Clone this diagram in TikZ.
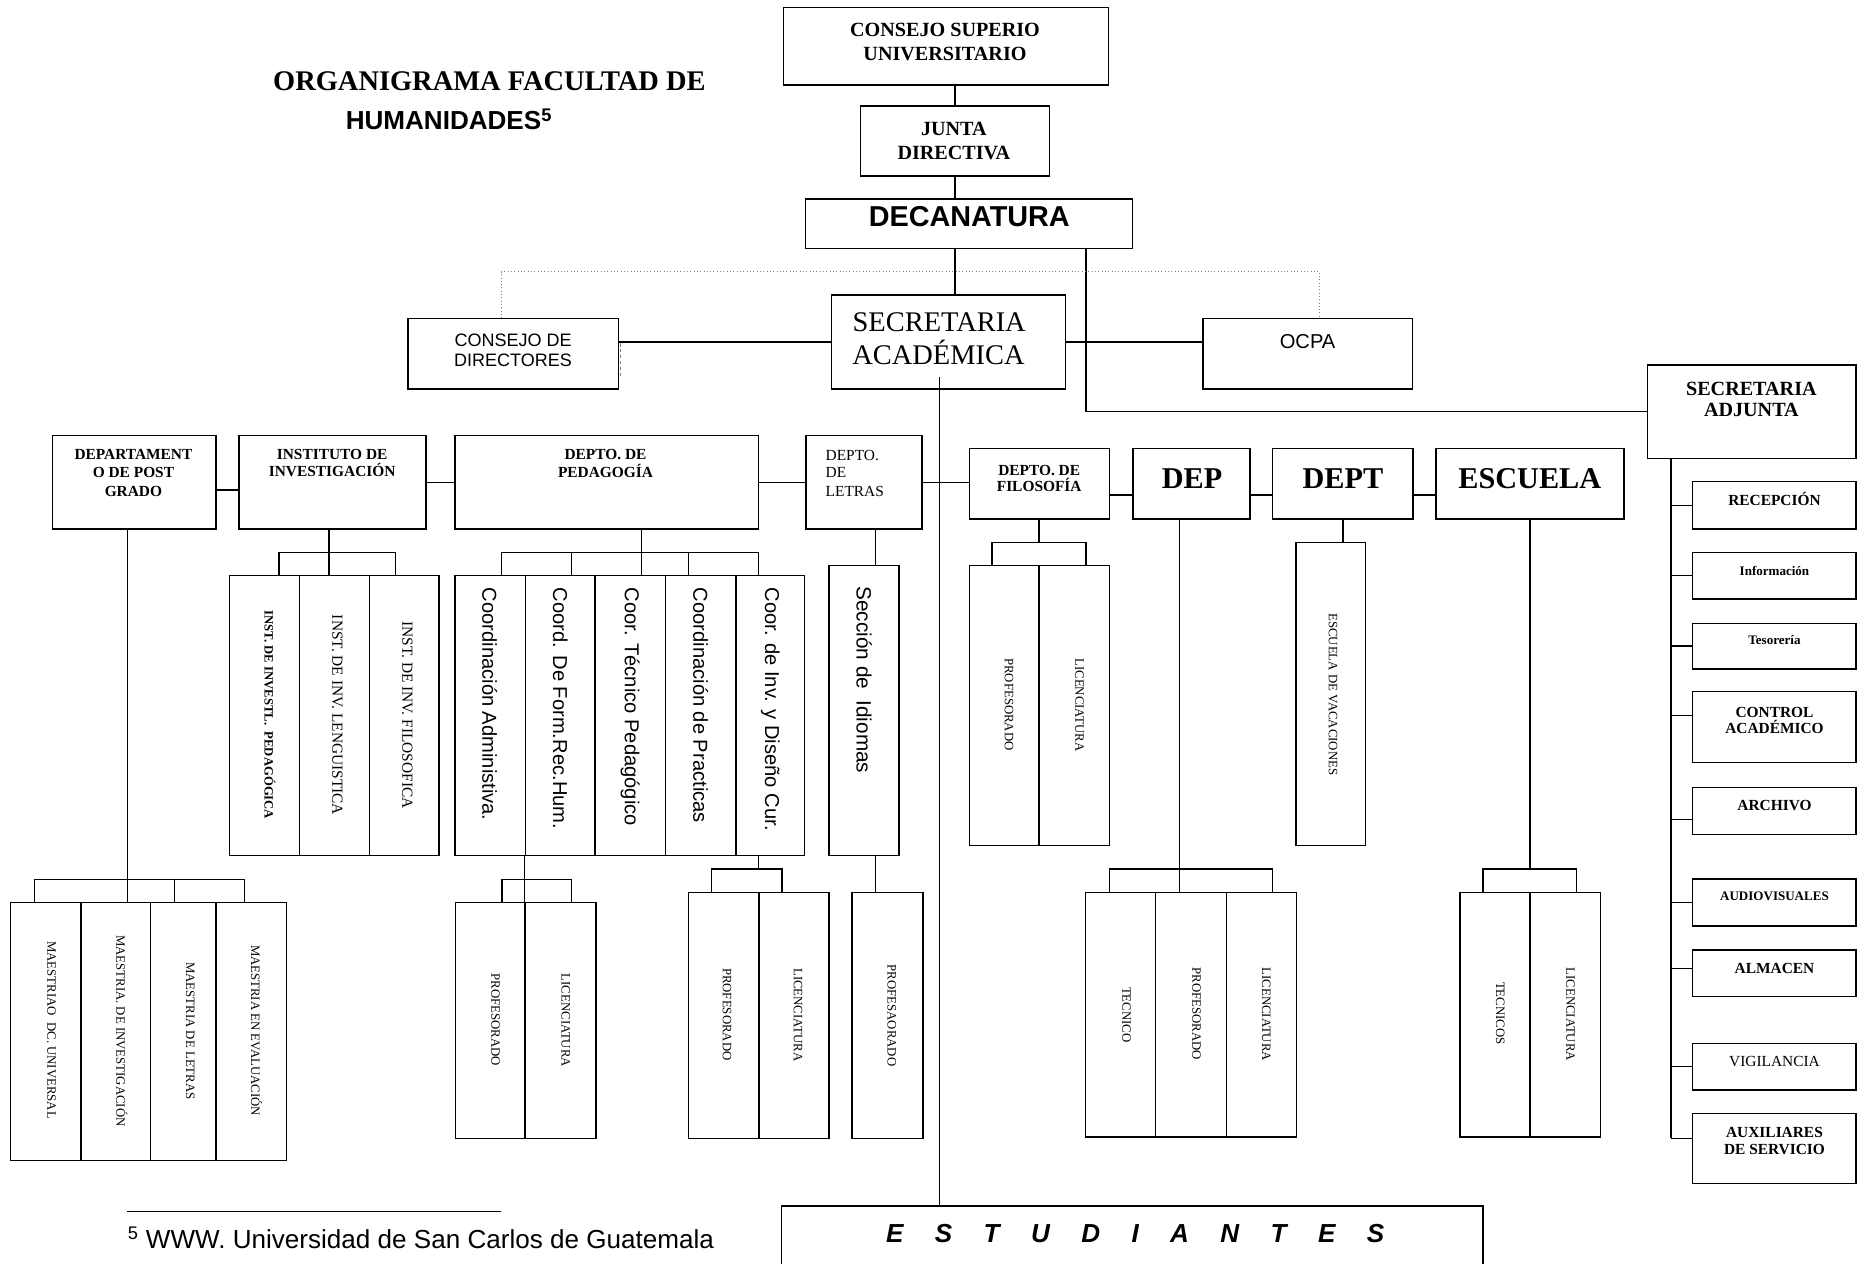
\documentclass[tikz,border=0pt]{standalone}
\usepackage{fontspec}
\setmainfont{Liberation Serif}
\newfontfamily\sans{Liberation Sans}
\newcommand\fs[2]{\fontsize{#1}{#2}\selectfont}
\newcommand\gp{\ \hspace{20.4pt}}
\tikzset{
  box/.style={draw, rectangle, line width=1.3pt, inner sep=0pt, outer sep=0pt},
  conn/.style={line width=1.2pt},
  txt/.style={inner sep=0pt, outer sep=0pt},
  rot/.style={txt, rotate=-90},
  dotline/.style={gray, dotted, line width=0.8pt},
  lsb/.style={txt, anchor=base, font=\bfseries\fs{13}{15}},
  lsr/.style={txt, anchor=base, font=\fs{13}{15}},
  vsmall/.style={rot, font=\fs{10.8}{12}},
  vsans/.style={rot, anchor=west, font=\sans\fs{17}{20}},
}
\newcommand\bx[5]{\node[box, minimum width=#4pt-#2pt, minimum height=#5pt-#3pt] (#1) at ({(#2+#4)/2},{(#3+#5)/2}) {};}
\begin{document}
\begin{tikzpicture}[x=1pt,y=-1pt]
\useasboundingbox (0,0) rectangle (1568,1066);
\clip (0,0) rectangle (1568,1066);
\fill[white] (0,0) rectangle (1568,1066);

% ---- title
\node[txt, anchor=base, font=\bfseries\fs{24}{28}] (title1) at (413,76) {ORGANIGRAMA FACULTAD DE};
\node[txt, anchor=base west, font=\sans\bfseries\fs{22}{26}] (title2) at (291.8,109.7) {HUMANIDADES\textsuperscript{5}};

% ---- top chain
\bx{cs}{661.1}{6.2}{935.6}{71.7}
\node[txt, anchor=base, font=\bfseries\fs{17}{20}] (cs1) at (797.5,31) {CONSEJO SUPERIO};
\node[txt, anchor=base, font=\bfseries\fs{17}{20}] (cs2) at (797.5,51.2) {UNIVERSITARIO};
\bx{jd}{726.1}{89.5}{885.7}{148.3}
\node[txt, anchor=base, font=\bfseries\fs{17}{20}] (jd1) at (805,114) {JUNTA};
\node[txt, anchor=base, font=\bfseries\fs{17}{20}] (jd2) at (805,135) {DIRECTIVA};
\bx{dec}{679.7}{167.9}{955.9}{209.6}
\node[txt, anchor=base, font=\sans\bfseries\fs{24.3}{28}] (dec1) at (818,191.3) {DECANATURA};
\bx{sec}{701.8}{249}{899}{328.3}
\node[txt, anchor=base, font=\fs{24}{28}] (sec1) at (792.6,280) {SECRETARIA};
\node[txt, anchor=base, font=\fs{24}{28}] (sec2) at (792,307.2) {ACADÉMICA};
\bx{cd}{344.3}{268.6}{522}{328.3}
\node[txt, anchor=base, font=\sans\fs{15.2}{18}] (cd1) at (433,292.2) {CONSEJO DE};
\node[txt, anchor=base, font=\sans\fs{15.2}{18}] (cd2) at (433,309.1) {DIRECTORES};
\bx{ocpa}{1015}{268.6}{1192}{328.3}
\node[txt, anchor=base, font=\sans\fs{17}{20}] (ocpa1) at (1103.5,294) {OCPA};
\bx{sadj}{1390.5}{308}{1566.4}{386.8}
\node[txt, anchor=base, font=\bfseries\fs{17}{20}] (sadj1) at (1478,333.4) {SECRETARIA};
\node[txt, anchor=base, font=\bfseries\fs{17}{20}] (sadj2) at (1478,351.8) {ADJUNTA};

% ---- second row
\bx{pg}{44.4}{367.7}{182.2}{446.4}
\node[lsb] (pg1) at (112.6,387.7) {DEPARTAMENT};
\node[lsb] (pg2) at (112.6,403.2) {O DE POST};
\node[lsb] (pg3) at (112.6,418.7) {GRADO};
\bx{inst}{201.9}{367.7}{359.7}{446.4}
\node[lsb] (inst1) at (280.3,387.7) {INSTITUTO DE};
\node[lsb] (inst2) at (280.3,402.3) {INVESTIGACIÓN};
\bx{ped}{384}{367.7}{640}{446.4}
\node[lsb] (ped1) at (511,387.7) {DEPTO. DE};
\node[lsb] (ped2) at (511,402.9) {PEDAGOGÍA};
\bx{let}{680}{367.7}{778}{446.4}
\node[lsr, anchor=base west] (let1) at (696.8,388.3) {DEPTO.};
\node[lsr, anchor=base west] (let2) at (696.8,402.9) {DE};
\node[lsr, anchor=base west] (let3) at (696.8,418.7) {LETRAS};
\bx{filo}{818}{378.4}{936.4}{438}
\node[lsb] (filo1) at (877,400.9) {DEPTO. DE};
\node[lsb] (filo2) at (877,415) {FILOSOFÍA};
\bx{dep}{956}{378.4}{1055}{438}
\node[txt, anchor=base, font=\bfseries\fs{25.5}{30}] (dep1) at (1006,412) {DEP};
\bx{dept}{1074}{378.4}{1192.6}{438}
\node[txt, anchor=base, font=\bfseries\fs{25.5}{30}] (dept1) at (1133.3,412) {DEPT};
\bx{esc}{1212}{378.4}{1370.5}{438}
\node[txt, anchor=base, font=\bfseries\fs{25.5}{30}] (esc1) at (1291,412) {ESCUELA};

% ---- instituto children
\bx{iA}{193.5}{485.8}{252.6}{722.1}
\bx{iB}{252.6}{485.8}{312}{722.1}
\bx{iC}{312}{485.8}{370.4}{722.1}
\node[vsmall, font=\bfseries\fs{10.7}{12}] (tiA) at (227.9,603.4) {INST. DE INVESTL.~ PEDAGÓGICA};
\node[vsmall, font=\fs{13}{15}] (tiB) at (284.6,603.4) {INST. DE INV. LENGUISTICA};
\node[vsmall, font=\fs{13}{15}] (tiC) at (343.7,603.4) {INST. DE INV. FILOSOFICA};

% ---- pedagogia children
\bx{pA}{384}{485.8}{443.6}{722.1}
\bx{pB}{443.6}{485.8}{502}{722.1}
\bx{pC}{502}{485.8}{561.8}{722.1}
\bx{pD}{561.8}{485.8}{620.9}{722.1}
\bx{pE}{620.9}{485.8}{679}{722.1}
\node[vsans] (tpA) at (413.3,496) {Coordinación Administiva.};
\node[vsans] (tpB) at (472.8,496) {Coord. De Form.Rec.Hum.};
\node[vsans] (tpC) at (531.9,496) {Coor. Técnico Pedagógico};
\node[vsans] (tpD) at (591.3,496) {Coordinación de Practicas};
\node[vsans] (tpE) at (650,496) {Coor. de Inv. y Diseño Cur.};

% ---- letras child
\bx{lA}{699.6}{477.4}{758.7}{722.1}
\node[vsans, font=\sans\fs{17.5}{20}] (tlA) at (729.2,495) {Sección de~ Idiomas};

% ---- filosofia children
\bx{fA}{818}{477.4}{877}{713.7}
\bx{fB}{877}{477.4}{936.4}{713.7}
\node[vsmall] (tfA) at (851.6,594.5) {PROFESORADO};
\node[vsmall] (tfB) at (911,595) {LICENCIATURA};

% ---- dept child
\bx{vA}{1093.7}{457.7}{1152.3}{713.7}
\node[vsmall] (tvA) at (1124.9,586) {ESCUELA DE VACACIONES};

% ---- dep children
\bx{dA}{916.2}{753.3}{975.3}{959.3}
\bx{dB}{975.3}{753.3}{1034.9}{959.3}
\bx{dC}{1034.9}{753.3}{1094}{959.3}
\node[vsmall] (tdA) at (950.8,856.4) {TECNICO};
\node[vsmall] (tdB) at (1009.8,855.5) {PROFESORADO};
\node[vsmall] (tdC) at (1068.7,856) {LICENCIATURA};

% ---- escuela children
\bx{eA}{1232}{753.3}{1291.2}{959.3}
\bx{eB}{1291.2}{753.3}{1350.6}{959.3}
\node[vsmall] (teA) at (1266.2,855.2) {TECNICOS};
\node[vsmall] (teB) at (1325.4,856) {LICENCIATURA};

% ---- post grado children
\bx{gA}{9}{761.8}{68.4}{979.5}
\bx{gB}{68.4}{761.8}{127.2}{979.5}
\bx{gC}{127.2}{761.8}{182.2}{979.5}
\bx{gD}{182.2}{761.8}{241.6}{979.5}
\node[vsmall] (tgA) at (43.4,869.3) {MAESTRIAO~ DC. UNIVERSAL};
\node[vsmall] (tgB) at (102.8,870) {MAESTRIA. DE INVESTIGACIÓN};
\node[vsmall] (tgC) at (160.5,870) {MAESTRIA DE LETRAS};
\node[vsmall] (tgD) at (216.4,869.7) {MAESTRIA EN EVALUACIÓN};

% ---- pedagogia sub-children
\bx{qA}{384.4}{761.8}{443.2}{960.7}
\bx{qB}{443.2}{761.8}{502.9}{960.7}
\node[vsmall] (tqA) at (418.3,860.8) {PROFESORADO};
\node[vsmall] (tqB) at (477.4,861.1) {LICENCIATURA};
\bx{rA}{580.9}{753.3}{640.4}{960.7}
\bx{rB}{640.4}{753.3}{699.5}{960.7}
\node[vsmall] (trA) at (613.5,856) {PROFESORADO};
\node[vsmall] (trB) at (673.5,856.4) {LICENCIATURA};
\bx{sA}{718.8}{753.3}{778.7}{960.7}
\node[vsmall] (tsA) at (752.6,857) {PROFESAORADO};

% ---- secretaria adjunta column
\bx{rec}{1428.5}{406.5}{1566.4}{446.4}
\bx{inf}{1428.5}{466.1}{1566.4}{505.5}
\bx{tes}{1428.5}{526}{1566.4}{564.6}
\bx{ctl}{1428.5}{583.7}{1566.4}{643.6}
\bx{arc}{1428.5}{664.7}{1566.4}{704.1}
\bx{aud}{1428.5}{742}{1566.4}{781.5}
\bx{alm}{1428.5}{801.7}{1566.4}{841.1}
\bx{vig}{1428.5}{880.5}{1566.4}{919.9}
\bx{aux}{1428.5}{939.6}{1566.4}{998.6}
\node[lsb] (rec1) at (1497.5,426.8) {RECEPCIÓN};
\node[lsb, font=\bfseries\fs{11}{13}] (inf1) at (1497.5,485.5) {Información};
\node[lsb, font=\bfseries\fs{11}{13}] (tes1) at (1497.5,543.8) {Tesorería};
\node[lsb] (ctl1) at (1497.5,605.7) {CONTROL};
\node[lsb] (ctl2) at (1497.5,618.9) {ACADÉMICO};
\node[lsb] (arc1) at (1497.5,684.2) {ARCHIVO};
\node[lsb, font=\bfseries\fs{11}{13}] (aud1) at (1497.5,760.3) {AUDIOVISUALES};
\node[lsb] (alm1) at (1497.5,821.3) {ALMACEN};
\node[lsr] (vig1) at (1497.5,900.3) {VIGILANCIA};
\node[lsb] (aux1) at (1497.5,960.2) {AUXILIARES};
\node[lsb] (aux2) at (1497.5,974.3) {DE SERVICIO};

% ---- estudiantes
\node[box, minimum width=591.9pt, minimum height=80pt, anchor=north west] (est) at (659.6,1017.8) {};
\node[txt, anchor=base, font=\sans\bfseries\itshape\fs{22}{26}] (est1) at (958,1048.8) {E\gp S\gp T\gp U\gp D\gp I\gp A\gp N\gp T\gp E\gp S};

% ---- footnote
\coordinate (fnl) at (107.5,1022);
\coordinate (fnr) at (422.8,1022);
\draw[line width=0.9pt] (fnl) -- (fnr);
\node[txt, anchor=base west, font=\sans\fs{22}{26}] (fn) at (108,1053.5) {\textsuperscript{5} WWW. Universidad de San Carlos de Guatemala};

% ================= connectors
\draw[conn] (cs.south -| jd.north) -- (jd.north);
\draw[conn] (jd.south) -- (jd.south |- dec.north);
\draw[conn] (jd.south |- dec.south) -- (jd.south |- sec.north);
\coordinate (dj) at (916.5,347.4);
\draw[conn] (dec.south -| dj) -- (dj) -- (sadj.west);
\coordinate (dl) at (423,229.3);
\coordinate (dr) at (1113.7,229.3);
\draw[dotline] (cd.north -| dl) -- (dl) -- (dr) -- (ocpa.north -| dr);
\draw[gray, densely dashed, line width=0.6pt] ([xshift=1.6pt,yshift=9pt]cd.east) -- ([xshift=1.6pt,yshift=-19.5pt]cd.east);
\draw[conn] (sec.west) -- (sec.west -| cd.east);
\draw[conn] (sec.east) -- (sec.east -| ocpa.west);
\coordinate (mtop) at (792.9,317.9);
\draw[conn] (mtop) -- (mtop |- est.north);

% row 2 links
\draw[conn] ([yshift=-6.5pt]pg.east) -- ([yshift=-6.5pt]inst.west);
\draw[conn] (inst.east) -- (ped.west);
\draw[conn] (ped.east) -- (let.west);
\draw[conn] (let.east) -- (let.east -| filo.west);
\draw[conn] ([yshift=-9.6pt]filo.east) -- ([yshift=-9.6pt]dep.west);
\draw[conn] ([yshift=-9.6pt]dep.east) -- ([yshift=-9.6pt]dept.west);
\draw[conn] ([yshift=-9.6pt]dept.east) -- ([yshift=-9.6pt]esc.west);

% instituto bracket
\coordinate (ib) at (277.6,466.1);
\coordinate (ibl) at (235.3,466.1);
\coordinate (ibr) at (333.7,466.1);
\draw[conn] (inst.south -| ib) -- (ib |- iB.north);
\draw[conn] (ibl |- iA.north) -- (ibl) -- (ibr) -- (ibr |- iC.north);

% pedagogia bracket
\coordinate (pb) at (541.5,466.1);
\coordinate (pbl) at (423.4,466.1);
\coordinate (pb2) at (482.4,466.1);
\coordinate (pb4) at (580.9,466.1);
\coordinate (pbr) at (640,466.1);
\draw[conn] (ped.south -| pb) -- (pb |- pC.north);
\draw[conn] (pbl |- pA.north) -- (pbl) -- (pbr) -- (pbr |- pE.north);
\draw[conn] (pb2) -- (pb2 |- pB.north);
\draw[conn] (pb4) -- (pb4 |- pD.north);

% letras
\draw[conn] ([xshift=9.8pt]let.south) -- ([xshift=9.8pt]let.south |- lA.north);
\draw[conn] ([xshift=9.8pt]lA.south) -- ([xshift=9.8pt]lA.south |- sA.north);

% filosofia bracket
\coordinate (fb) at (876.9,457.7);
\coordinate (fbl) at (837.3,457.7);
\coordinate (fbr) at (916.5,457.7);
\draw[conn] (filo.south -| fb) -- (fb);
\draw[conn] (fbl |- fA.north) -- (fbl) -- (fbr) -- (fbr |- fB.north);

% dept
\draw[conn] (dept.south) -- (dept.south |- vA.north);

% dep bracket
\coordinate (db) at (995.5,733.4);
\coordinate (dbl) at (936.2,733.4);
\coordinate (dbr) at (1074,733.4);
\draw[conn] (dep.south -| db) -- (db |- dB.north);
\draw[conn] (dbl |- dA.north) -- (dbl) -- (dbr) -- (dbr |- dC.north);

% escuela bracket
\coordinate (eb) at (1291.3,733.4);
\coordinate (ebl) at (1251.5,733.4);
\coordinate (ebr) at (1330.6,733.4);
\draw[conn] (esc.south -| eb) -- (eb);
\draw[conn] (ebl |- eA.north) -- (ebl) -- (ebr) -- (ebr |- eB.north);

% post grado bracket
\coordinate (gb) at (107.8,742);
\coordinate (gbl) at (29,742);
\coordinate (gb3) at (147.5,742);
\coordinate (gbr) at (206.2,742);
\draw[conn] (pg.south -| gb) -- (gb |- gB.north);
\draw[conn] (gbl |- gA.north) -- (gbl) -- (gbr) -- (gbr |- gD.north);
\draw[conn] (gb3) -- (gb3 |- gC.north);

% pedagogia sub brackets
\coordinate (qb) at (442.8,742);
\coordinate (qbl) at (423.8,742);
\coordinate (qbr) at (482.2,742);
\draw[conn] (pA.south -| qb) -- (qb |- qA.north);
\draw[conn] (qbl |- qA.north) -- (qbl) -- (qbr) -- (qbr |- qB.north);
\coordinate (rb) at (640,733.4);
\coordinate (rbl) at (600.5,733.4);
\coordinate (rbr) at (660,733.4);
\draw[conn] (pE.south -| rb) -- (rb);
\draw[conn] (rbl |- rA.north) -- (rbl) -- (rbr) -- (rbr |- rB.north);

% secretaria adjunta column
\coordinate (vt) at (1410,386.8);
\coordinate (vb) at (1410,960.7);
\draw[conn] (sadj.south -| vt) -- (vb);
\draw[conn] (rec.west) -- (rec.west -| vt);
\draw[conn] (inf.west) -- (inf.west -| vt);
\draw[conn] (tes.west) -- (tes.west -| vt);
\draw[conn] ([yshift=9.6pt]ctl.west) -- +(-18.5,0);
\draw[conn] ([yshift=-7.1pt]arc.west) -- +(-18.5,0);
\draw[conn] (aud.west) -- (aud.west -| vt);
\draw[conn] ([yshift=4.2pt]alm.west) -- +(-18.5,0);
\draw[conn] (vig.west) -- (vig.west -| vt);
\draw[conn] ([yshift=8.4pt]aux.west) -- +(-18.5,0);
\end{tikzpicture}
\end{document}
